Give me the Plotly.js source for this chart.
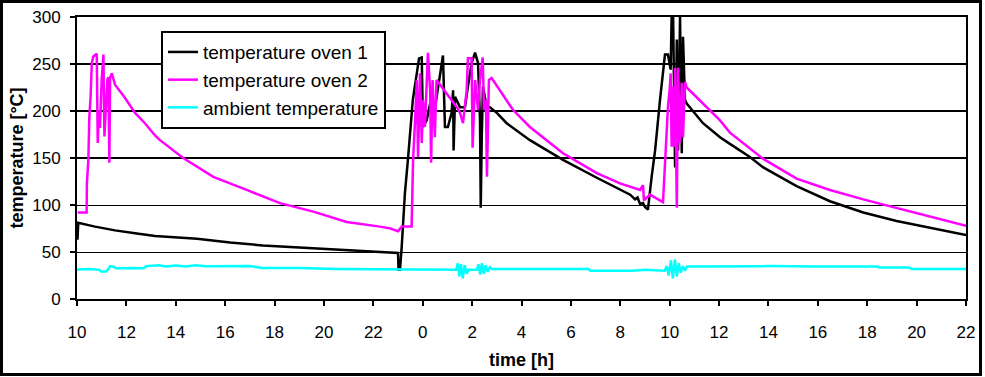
<!DOCTYPE html>
<html>
<head>
<meta charset="utf-8">
<script src="https://cdn.plot.ly/plotly-3.0.1.min.js"></script>
<style>
  html, body { margin: 0; padding: 0; background: #fff; }
  #wrap { position: relative; width: 985px; height: 377px; }
  #chart { position: absolute; left: 0; top: 0; width: 985px; height: 377px; }
  #frame { position: absolute; left: 0; top: 0; width: 982px; height: 376px; box-sizing: border-box; border: 3px solid #000; pointer-events: none; }
</style>
</head>
<body>
<div id="wrap"><div id="chart"></div><div id="frame"></div></div>
<script>
// Hours elapsed since 10:00 on day 1
const tickHours = [0,2,4,6,8,10,12,14,16,18,20,22,24,26,28,30,32,34,36];
const tickText  = ['10','12','14','16','18','20','22','0','2','4','6','8','10','12','14','16','18','20','22'];
const yTicks = [0,50,100,150,200,250,300];
const thickGrid = [150,200,250];

const oven1Hours = [0.02,0.05,0.73,1.54,2.35,3.16,4.86,6.2,7.53,8.87,10.25,11.58,12.96,13.0,13.02,13.08,13.15,13.28,13.4,13.6,13.76,13.85,13.96,14.01,14.16,14.3,14.42,14.62,14.82,14.9,15.02,15.17,15.23,15.25,15.31,15.51,15.71,15.83,15.98,16.12,16.24,16.32,16.35,16.39,16.44,16.59,16.72,17.0,17.4,18.34,19.68,21.05,21.99,22.4,22.6,22.7,22.8,22.92,23.0,23.12,23.27,23.41,23.61,23.81,23.93,24.04,24.08,24.14,24.22,24.29,24.34,24.42,24.49,24.54,24.62,24.69,25.35,26.04,26.44,27.25,27.79,29.14,30.49,31.84,33.19,34.54,36.0];
const oven1Temp  = [63,81,77,73,70,67,64,60,57,55,52.5,51,49,49,31,31,56,113,148,212,240,256,257,183,190,208,190,225,259,183,183,198,222,158,215,204,204,226,251,262,251,190,97,172,226,204,204,198,187,169,148,129,116,111,106,108,101,102,98,95,130,158,212,260,260,244,300,300,140,276,158,300,155,279,212,208,187,172,165,151,140,120,104,92,83,76,68];

const oven2Hours = [0.03,0.39,0.40,0.46,0.5,0.55,0.6,0.66,0.8,0.84,0.89,0.93,1.0,1.07,1.11,1.16,1.23,1.27,1.31,1.34,1.41,1.54,1.94,2.35,2.75,3.16,3.36,4.3,5.52,6.87,8.22,9.57,10.92,12.27,12.7,13.0,13.15,13.55,13.61,13.69,13.76,13.81,13.89,13.96,14.01,14.09,14.16,14.21,14.3,14.34,14.4,14.49,14.56,14.97,15.38,15.51,15.63,15.78,15.83,15.98,16.02,16.12,16.24,16.32,16.43,16.48,16.56,16.6,16.68,16.79,17.13,17.66,18.34,19.68,21.05,21.99,22.8,22.92,22.96,23.2,23.73,23.81,23.93,24.01,24.04,24.08,24.12,24.18,24.22,24.29,24.34,24.42,24.49,24.54,24.62,24.69,25.35,26.04,26.44,27.79,29.14,30.49,31.84,33.19,34.54,36.0];
const oven2Temp  = [92,92,123,148,194,215,251,258,261,166,201,182,233,260,173,205,233,236,145,236,240,228,214,198,187,174,169,150,130,116,102,93,82,77,75,72,77,77,148,190,233,151,240,166,212,183,233,262,222,145,233,172,233,219,204,198,187,222,256,256,161,233,201,233,257,201,212,130,233,235,222,201,183,155,134,123,116,121,105,111,103,145,204,226,240,162,226,162,246,97,246,166,230,172,231,225,208,190,177,149,128,116,106,97,88,78];

const ambientHours = [0,0.5,0.9,1.0,1.2,1.35,1.5,1.6,2.2,2.7,2.8,3.3,3.6,4.0,4.4,4.8,5.2,6.0,7.0,7.5,9.0,10.5,12.0,13.0,14.0,15.35,15.42,15.48,15.55,15.62,15.7,15.78,15.85,16.2,16.26,16.33,16.4,16.47,16.55,16.63,16.72,16.8,18.5,20.7,20.8,22.5,23.0,23.8,23.88,23.96,24.05,24.13,24.21,24.29,24.37,24.45,24.53,24.62,24.7,26.0,28.0,30.0,32.4,32.5,33.7,33.8,36.0];
const ambientTemp  = [31.5,32,31,29,29.5,35,34,32.6,33,32.6,34.8,36,34.5,35.5,34.5,36,34.8,35,35,33,33,32,31.5,31,31,31,38,24,37,22,36,27,31,31,37,26,38,27,36,29,34,32,32,32,30,30,31,30,35,25,41,22,42,24,38,28,35,30,34.5,35,35,34.5,34.5,33.5,33.5,32,32];

const font = 'Liberation Sans, Arial, sans-serif';

const traces = [
  {x: oven1Hours, y: oven1Temp, name: 'temperature oven 1', mode: 'lines', line: {color: '#000000', width: 2.5}},
  {x: oven2Hours, y: oven2Temp, name: 'temperature oven 2', mode: 'lines', line: {color: '#FF00FF', width: 2.5}},
  {x: ambientHours, y: ambientTemp, name: 'ambient temperature', mode: 'lines', line: {color: '#00FFFF', width: 2.5}}
];

const shapes = thickGrid.map(v => ({type: 'line', xref: 'paper', x0: 0, x1: 1, yref: 'y', y0: v, y1: v, line: {color: '#000', width: 2}, layer: 'below'}));

const layout = {
  width: 985, height: 377,
  margin: {l: 77, r: 19, t: 17, b: 78},
  paper_bgcolor: '#fff', plot_bgcolor: '#fff',
  font: {family: font, color: '#000', size: 17},
  showlegend: true,
  legend: {
    x: 0.0945, y: 0.95, xanchor: 'left', yanchor: 'top',
    bgcolor: '#fff', bordercolor: '#000', borderwidth: 2,
    font: {family: font, size: 19, color: '#000'},
    itemwidth: 30, tracegroupgap: 0
  },
  xaxis: {
    range: [0, 36], tickvals: tickHours, ticktext: tickText,
    showgrid: false, zeroline: false,
    showline: true, linecolor: '#000', linewidth: 2, mirror: true,
    ticks: 'outside', ticklen: 5, tickwidth: 2, tickcolor: '#000',
    ticklabelstandoff: 12,
    tickfont: {family: font, size: 17},
    title: {text: 'time [h]', font: {family: font, size: 18, weight: 'bold'}, standoff: 12}
  },
  yaxis: {
    range: [0, 300], tickvals: yTicks,
    showgrid: true, gridcolor: '#000', gridwidth: 1, zeroline: false,
    showline: true, linecolor: '#000', linewidth: 2, mirror: true,
    ticks: 'outside', ticklen: 5, tickwidth: 2, tickcolor: '#000',
    ticklabelstandoff: 6,
    tickfont: {family: font, size: 17},
    title: {text: 'temperature [°C]', font: {family: font, size: 18, weight: 'bold'}, standoff: 4}
  },
  shapes: shapes
};

Plotly.newPlot('chart', traces, layout, {displayModeBar: false, staticPlot: true});
</script>
</body>
</html>
